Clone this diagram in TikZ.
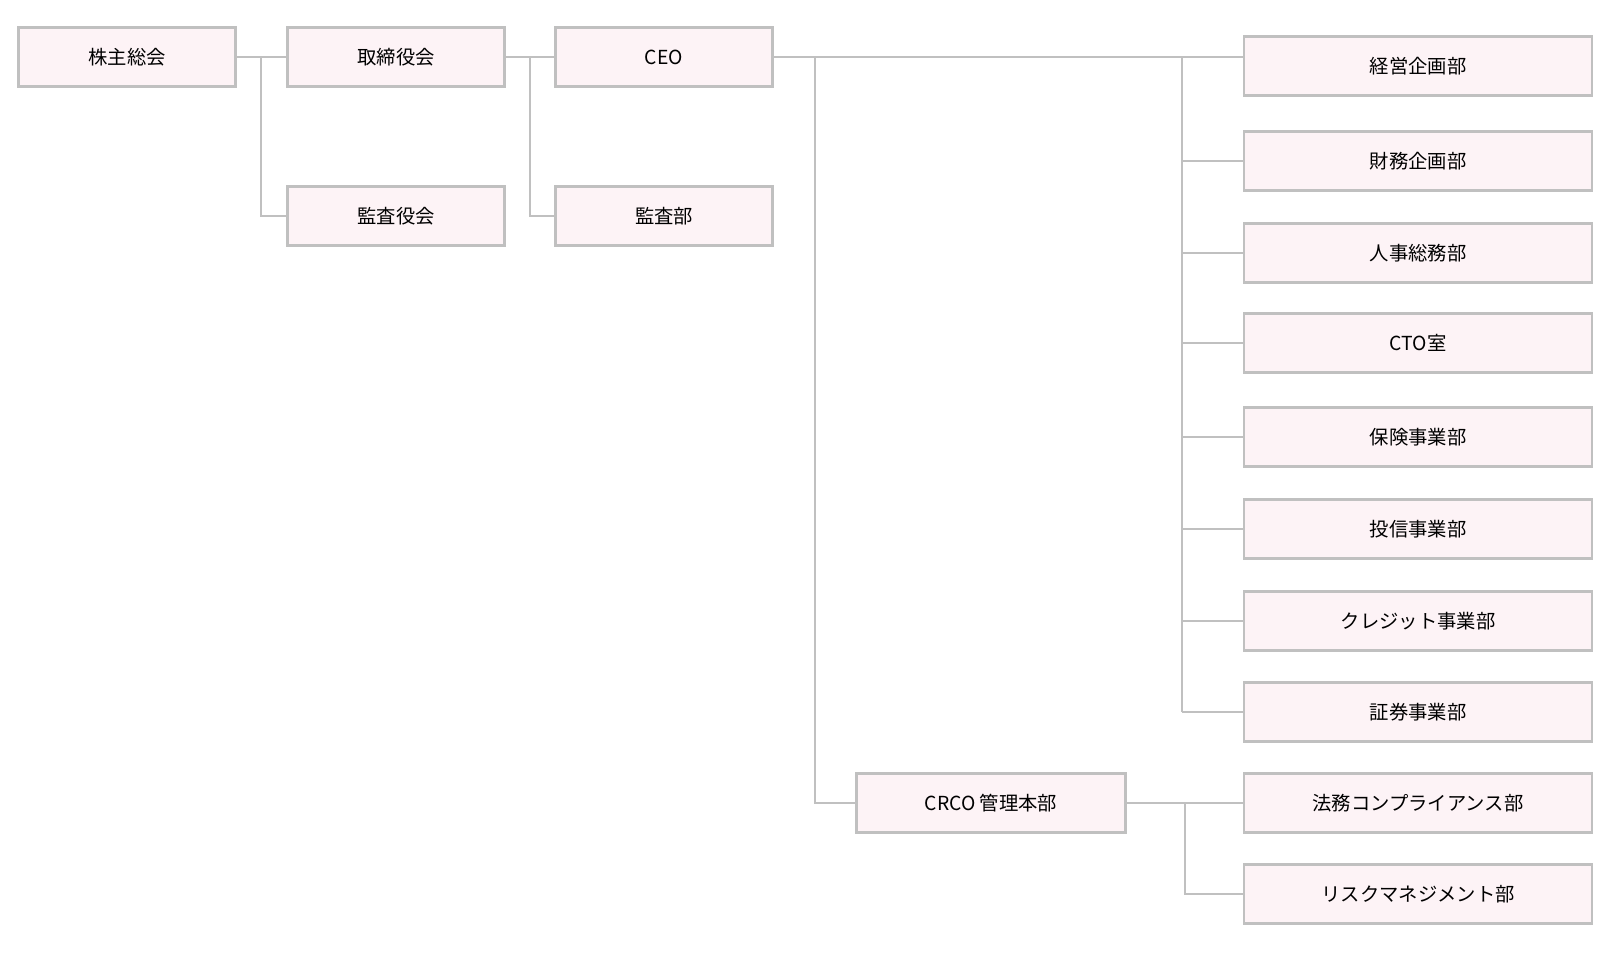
\documentclass[tikz,border=0pt]{standalone}
\usepackage{fontspec}
\setmainfont{Noto Sans CJK JP}
\usetikzlibrary{positioning}
\definecolor{boxfill}{HTML}{FDF3F6}
\definecolor{boxline}{HTML}{C0C0C0}
\tikzset{x=0.02cm,y=-0.02cm,
    every node/.style={font=\fontsize{11}{13}\selectfont},
    unit/.style={
        draw=boxline,
        fill=boxfill,
        line width=1.5pt,
        minimum width=4.34cm,
        minimum height=1.18cm,
        inner sep=0pt},
    dept/.style={
        unit,
        minimum width=6.96cm},
    link/.style={
        draw=boxline,
        line width=1.5pt}}
\begin{document}
\begin{tikzpicture}
    \useasboundingbox (0,0) rectangle (1618,960);
    \node[unit] (meeting) at (127,57) {株主総会};
    \node[unit] (board) at (396,57) {取締役会};
    \node[unit] (auditboard) at (396,216) {監査役会};
    \node[unit] (ceo) at (664,57) {CEO};
    \node[unit] (audit) at (664,216) {監査部};
    \node[unit,minimum width=5.38cm] (crco) at (991,803) {CRCO 管理本部};

    \node[dept] (plan) at (1418,66) {経営企画部};
    \node[dept] (finance) at (1418,161) {財務企画部};
    \node[dept] (hr) at (1418,253) {人事総務部};
    \node[dept] (cto) at (1418,343) {CTO室};
    \node[dept] (insure) at (1418,437) {保険事業部};
    \node[dept] (fund) at (1418,529) {投信事業部};
    \node[dept] (credit) at (1418,621) {クレジット事業部};
    \node[dept] (secur) at (1418,712) {証券事業部};
    \node[dept] (legal) at (1418,803) {法務コンプライアンス部};
    \node[dept] (risk) at (1418,894) {リスクマネジメント部};

    \path[link] (meeting.east) -- (board.west);
    \path[link] (261,57) |- (auditboard.west);
    \path[link] (board.east) -- (ceo.west);
    \path[link] (530,57) |- (audit.west);
    \path[link] (ceo.east) -- (plan.west |- ceo.east);
    \path[link] (815,57) |- (crco.west);
    \path[link] (1182,57) -- (1182,712);
    \foreach \d in {finance,hr,cto,insure,fund,credit,secur}
        \path[link] (1182,0 |- \d.west) -- (\d.west);
    \path[link] (crco.east) -- (legal.west);
    \path[link] (1185,803) |- (risk.west);
\end{tikzpicture}
\end{document}
